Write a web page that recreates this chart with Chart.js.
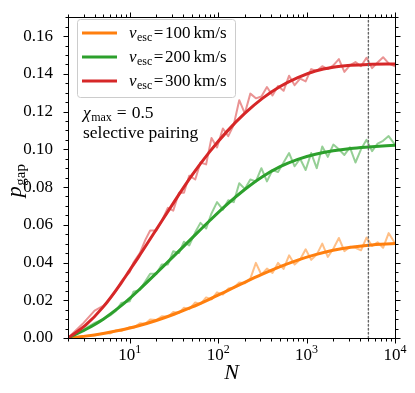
<!DOCTYPE html>
<html><head><meta charset="utf-8">
<script src="https://cdn.jsdelivr.net/npm/chart.js@4/dist/chart.umd.min.js"></script>
<style>html,body{margin:0;padding:0;background:#fff}canvas{display:block}</style>
</head><body>
<canvas id="c" width="415" height="393"></canvas>
<script>
// ---------- data ----------
const nValues = [2,3,4,5,6,7,8,10,11,13,15,17,20,23,27,31,36,41,47,55,63,73,84,97,113,130,150,173,200,231,267,308,356,411,475,549,634,732,845,976,1127,1302,1504,1737,2006,2317,2676,3091,3570,4123,4762,5500,6352,7336,8473,10000];
const redNoisy = [0,0.008,0.0145,0.0170,0.021,0.025,0.030,0.035,0.040,0.045,0.052,0.057,0.057,0.062,0.069,0.0675,0.077,0.077,0.086,0.084,0.093,0.092,0.106,0.101,0.111,0.107,0.113,0.126,0.119,0.1295,0.127,0.128,0.133,0.1285,0.1335,0.131,0.139,0.134,0.1375,0.136,0.1425,0.1415,0.1440,0.1425,0.1445,0.1478,0.1410,0.1445,0.1462,0.1440,0.1485,0.1430,0.1460,0.1488,0.1455,0.1440];
const greenNoisy = [0,0.0045,0.0080,0.0100,0.0120,0.0145,0.0185,0.0195,0.0245,0.0255,0.030,0.034,0.034,0.039,0.039,0.046,0.045,0.051,0.049,0.056,0.061,0.058,0.066,0.072,0.068,0.073,0.072,0.082,0.079,0.084,0.083,0.090,0.083,0.089,0.088,0.093,0.098,0.091,0.095,0.089,0.098,0.090,0.1015,0.096,0.1025,0.100,0.097,0.101,0.093,0.100,0.105,0.099,0.103,0.1045,0.107,0.1025];
const orangeNoisy = [0,0.0010,0.0014,0.0026,0.0024,0.0040,0.0037,0.0058,0.0054,0.0078,0.0075,0.0098,0.0095,0.0115,0.0112,0.0138,0.0133,0.0160,0.0153,0.0188,0.0180,0.0215,0.0205,0.0242,0.0230,0.0262,0.0266,0.0294,0.0290,0.0315,0.0398,0.0335,0.0368,0.0345,0.0398,0.0366,0.0438,0.0390,0.0416,0.0470,0.0414,0.0442,0.0500,0.0430,0.0473,0.0530,0.0460,0.0483,0.0478,0.0465,0.0532,0.0488,0.0507,0.0478,0.0556,0.0502];

const smoothN = [2,3.162,5.012,7.943,10,12.59,19.95,31.62,50.12,79.43,125.9,199.5,316.2,501.2,794.3,1259,1995,3162,5012,10000];
const redSmooth = [0,0.0068,0.0165,0.0290,0.0360,0.0430,0.0575,0.0720,0.0860,0.0985,0.1095,0.1190,0.1270,0.1333,0.1380,0.1415,0.1435,0.1445,0.1450,0.1452];
const greenSmooth = [0,0.0045,0.0100,0.0170,0.0210,0.0253,0.0343,0.0435,0.0528,0.0620,0.0708,0.0787,0.0855,0.0908,0.0947,0.0974,0.0992,0.1004,0.1012,0.1022];
const orangeSmooth = [0,0.0010,0.0024,0.0042,0.0053,0.0065,0.0093,0.0126,0.0163,0.0205,0.0250,0.0295,0.0338,0.0378,0.0413,0.0442,0.0465,0.0481,0.0492,0.0501];

const seriesVesc = ['100','200','300'];
const seriesColors = ['#ff7f0e','#2ca02c','#d62728'];
const nCut = 5000;

const yTicks = [0,0.02,0.04,0.06,0.08,0.10,0.12,0.14,0.16];
const yMinorStep = 0.005;
const xMajor = [10,100,1000,10000];
const xMajorExp = ['1','2','3','4'];
const xMin = 2, xMax = 10000, yMin = 0, yMax = 0.17;

// ---------- datasets ----------
const pts = (xs, ys) => xs.map((x, i) => ({x: x, y: ys[i]}));
const alpha = (hex, a) => {
  const r = parseInt(hex.slice(1,3),16), g = parseInt(hex.slice(3,5),16), b = parseInt(hex.slice(5,7),16);
  return `rgba(${r},${g},${b},${a})`;
};
const noisy = [orangeNoisy, greenNoisy, redNoisy];
const smooth = [orangeSmooth, greenSmooth, redSmooth];
const datasets = [];
for (let i = 0; i < 3; i++) {
  datasets.push({data: pts(nValues, noisy[i]), borderColor: alpha(seriesColors[i], 0.5), borderWidth: 2,
    pointRadius: 0, tension: 0, order: 10 - i, fill: false});
}
for (let i = 0; i < 3; i++) {
  datasets.push({data: pts(smoothN, smooth[i]), borderColor: seriesColors[i], borderWidth: 3,
    pointRadius: 0, cubicInterpolationMode: 'monotone', order: 3 - i, fill: false});
}
datasets.push({data: [{x: nCut, y: yMin}, {x: nCut, y: yMax}], borderColor: '#666', borderWidth: 1.4,
  borderDash: [1.5, 2.5], pointRadius: 0, order: 0, fill: false});

// ---------- helpers ----------
const SERIF = '"Liberation Serif", "DejaVu Serif", serif';
function rich(ctx, parts, x, y) {
  for (const p of parts) {
    ctx.font = p.f;
    ctx.fillText(p.t, x + (p.dx || 0), y + (p.dy || 0));
    x += ctx.measureText(p.t).width + (p.dx || 0) + (p.sp || 0);
  }
  return x;
}
function richWidth(ctx, parts) {
  let w = 0;
  for (const p of parts) { ctx.font = p.f; w += ctx.measureText(p.t).width + (p.dx || 0) + (p.sp || 0); }
  return w;
}

const decor = {
  id: 'decor',
  afterDraw(chart) {
    const ctx = chart.ctx, a = chart.chartArea;
    const xs = chart.scales.x, ys = chart.scales.y;
    ctx.save();
    ctx.strokeStyle = '#000'; ctx.lineWidth = 1;
    const L = Math.round(a.left) + 0.5, R = Math.round(a.right) + 0.5, T = Math.round(a.top) + 0.5, B = Math.round(a.bottom) + 0.5;
    ctx.strokeRect(L, T, R - L, B - T);
    const tick = (x1, y1, x2, y2) => { ctx.beginPath(); ctx.moveTo(x1, y1); ctx.lineTo(x2, y2); ctx.stroke(); };
    for (const v of yTicks) { const y = Math.round(ys.getPixelForValue(v)) + 0.5; tick(L, y, L - 5, y); tick(R, y, R + 5, y); }
    for (let v = yMin; v <= yMax + 1e-9; v += yMinorStep) {
      const y = Math.round(ys.getPixelForValue(v)) + 0.5; tick(L, y, L - 3, y); tick(R, y, R + 3, y);
    }
    for (const v of xMajor) { const x = Math.round(xs.getPixelForValue(v)) + 0.5; tick(x, B, x, B + 5); tick(x, T, x, T - 5); }
    for (let d = 1; d <= 1000; d *= 10) for (let m = 2; m <= 9; m++) {
      const v = d * m; if (v < xMin || v > xMax) continue;
      const x = Math.round(xs.getPixelForValue(v)) + 0.5; tick(x, B, x, B + 3); tick(x, T, x, T - 3);
    }
    // x tick labels 10^k
    ctx.fillStyle = '#000'; ctx.textBaseline = 'alphabetic'; ctx.textAlign = 'left';
    xMajor.forEach((v, i) => {
      const parts = [{t: '10', f: `17px ${SERIF}`}, {t: xMajorExp[i], f: `12px ${SERIF}`, dy: -7}];
      const w = richWidth(ctx, parts);
      rich(ctx, parts, xs.getPixelForValue(v) - w / 2, 360);
    });
    // axis titles
    ctx.font = `italic 22px ${SERIF}`; ctx.textAlign = 'center';
    ctx.fillText('N', (a.left + a.right) / 2, 379);
    ctx.textAlign = 'left';
    ctx.save();
    ctx.translate(21, (a.top + a.bottom) / 2 + 3); ctx.rotate(-Math.PI / 2);
    const yl = [{t: 'p', f: `italic 22px ${SERIF}`, sp: 0.5}, {t: 'gap', f: `15px ${SERIF}`, dy: 4}];
    rich(ctx, yl, -richWidth(ctx, yl) / 2, 0);
    ctx.restore();
    // legend
    const lx = 77.5, ly = 19.5, lw = 158, lh = 78, r = 3;
    ctx.beginPath();
    ctx.moveTo(lx + r, ly); ctx.lineTo(lx + lw - r, ly); ctx.arcTo(lx + lw, ly, lx + lw, ly + r, r);
    ctx.lineTo(lx + lw, ly + lh - r); ctx.arcTo(lx + lw, ly + lh, lx + lw - r, ly + lh, r);
    ctx.lineTo(lx + r, ly + lh); ctx.arcTo(lx, ly + lh, lx, ly + lh - r, r);
    ctx.lineTo(lx, ly + r); ctx.arcTo(lx, ly, lx + r, ly, r); ctx.closePath();
    ctx.fillStyle = 'rgba(255,255,255,0.8)'; ctx.fill();
    ctx.strokeStyle = '#cccccc'; ctx.lineWidth = 1; ctx.stroke();
    for (let i = 0; i < 3; i++) {
      const y = 33 + 24 * i;
      ctx.strokeStyle = seriesColors[i]; ctx.lineWidth = 3;
      tick(82, y, 117, y);
      ctx.fillStyle = '#000';
      rich(ctx, [
        {t: 'v', f: `italic 17px ${SERIF}`, sp: 0.5},
        {t: 'esc', f: `12px ${SERIF}`, dy: 3, sp: 1.5},
        {t: '=', f: `17px ${SERIF}`, sp: 1.5},
        {t: seriesVesc[i], f: `17px ${SERIF}`, sp: 3},
        {t: 'km/s', f: `17px ${SERIF}`}
      ], 129, y + 5);
    }
    // annotation
    ctx.fillStyle = '#000';
    rich(ctx, [
      {t: 'χ', f: `italic 17.5px ${SERIF}`, sp: 0.5},
      {t: 'max', f: `12px ${SERIF}`, dy: 3, sp: 5},
      {t: '=', f: `17.5px ${SERIF}`, sp: 5},
      {t: '0.5', f: `17.5px ${SERIF}`}
    ], 83, 118);
    ctx.font = `17.5px ${SERIF}`;
    ctx.fillText('selective pairing', 83, 138);
    ctx.restore();
  }
};

new Chart(document.getElementById('c'), {
  type: 'line',
  data: {datasets: datasets},
  options: {
    responsive: false, animation: false, devicePixelRatio: 1,
    layout: {padding: {left: 0, top: 11, right: 20, bottom: 0}},
    plugins: {legend: {display: false}, tooltip: {enabled: false}},
    elements: {line: {borderCapStyle: 'round', borderJoinStyle: 'round'}},
    scales: {
      x: {type: 'logarithmic', min: xMin, max: xMax,
        grid: {display: false}, border: {display: false},
        ticks: {display: false},
        afterBuildTicks: s => { s.ticks = xMajor.map(v => ({value: v})); },
        afterFit: s => { s.height = 55; }},
      y: {type: 'linear', min: yMin, max: yMax,
        grid: {display: false}, border: {display: false},
        ticks: {padding: 7, color: '#000', font: {family: SERIF, size: 17},
          callback: v => Number(v).toFixed(2)},
        afterBuildTicks: s => { s.ticks = yTicks.map(v => ({value: v})); },
        afterFit: s => { s.width = 68; }}
    }
  },
  plugins: [decor]
});
</script>
</body></html>
